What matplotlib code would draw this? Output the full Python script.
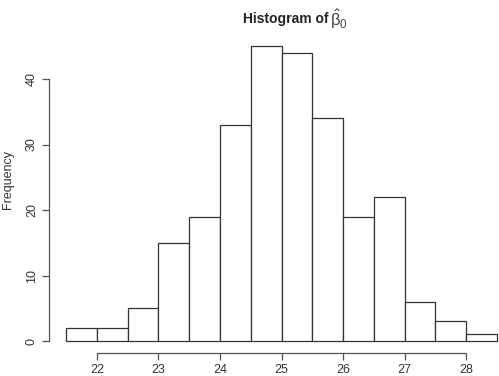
import matplotlib
matplotlib.use("Agg")
import matplotlib.pyplot as plt
import numpy as np

# histogram breaks and counts
breaks = [21.5, 22.0, 22.5, 23.0, 23.5, 24.0, 24.5, 25.0, 25.5, 26.0, 26.5, 27.0, 27.5, 28.0, 28.5]
counts = [2, 2, 5, 15, 19, 33, 45, 44, 34, 19, 22, 6, 3, 1]
xticks = [22, 23, 24, 25, 26, 27, 28]
yticks = [0, 10, 20, 30, 40]

plt.rcParams['font.family'] = ['Liberation Sans', 'DejaVu Sans']
plt.rcParams['mathtext.fontset'] = 'custom'
plt.rcParams['mathtext.rm'] = 'Liberation Sans'
plt.rcParams['mathtext.it'] = 'Liberation Sans'
ink = '#333333'
axcol = '#555555'

fig = plt.figure(figsize=(4.99, 3.76), dpi=100)
ax = fig.add_axes([49 / 499, 23.2 / 376, 465 / 499, 318.3 / 376])

left = np.array(breaks[:-1])
widths = np.diff(breaks)
ax.bar(left, counts, width=widths, align='edge', color='white',
       edgecolor=ink, linewidth=0.9)

# R-style range: 4% padding on each side
ax.set_xlim(21.22, 28.78)
ax.set_ylim(-1.8, 46.8)

for s in ['top', 'right']:
    ax.spines[s].set_visible(False)
for s in ['left', 'bottom']:
    ax.spines[s].set_color(axcol)
    ax.spines[s].set_linewidth(0.9)
ax.spines['left'].set_bounds(0, 40)
ax.spines['bottom'].set_bounds(22, 28)

ax.set_xticks(xticks)
ax.set_yticks(yticks)
ax.set_yticklabels([str(v) for v in yticks], rotation=90, va='center')
ax.tick_params(axis='both', colors=axcol, labelcolor=ink, labelsize=9,
               length=5, width=0.9)
ax.tick_params(axis='x', pad=3)
ax.tick_params(axis='y', pad=3)

ax.set_ylabel('Frequency', fontsize=9, color=ink)
ax.yaxis.set_label_coords(-0.075, 0.543)

fig.text(243 / 499, 1 - 19 / 376, 'Histogram of',
         ha='left', va='center', fontsize=10, fontweight='bold', color='#222222')
fig.text(330 / 499, 1 - 19 / 376, r'$\hat{\beta}_0$',
         ha='left', va='center', fontsize=12, color='#444444')

fig.savefig('out.png', dpi=100)
